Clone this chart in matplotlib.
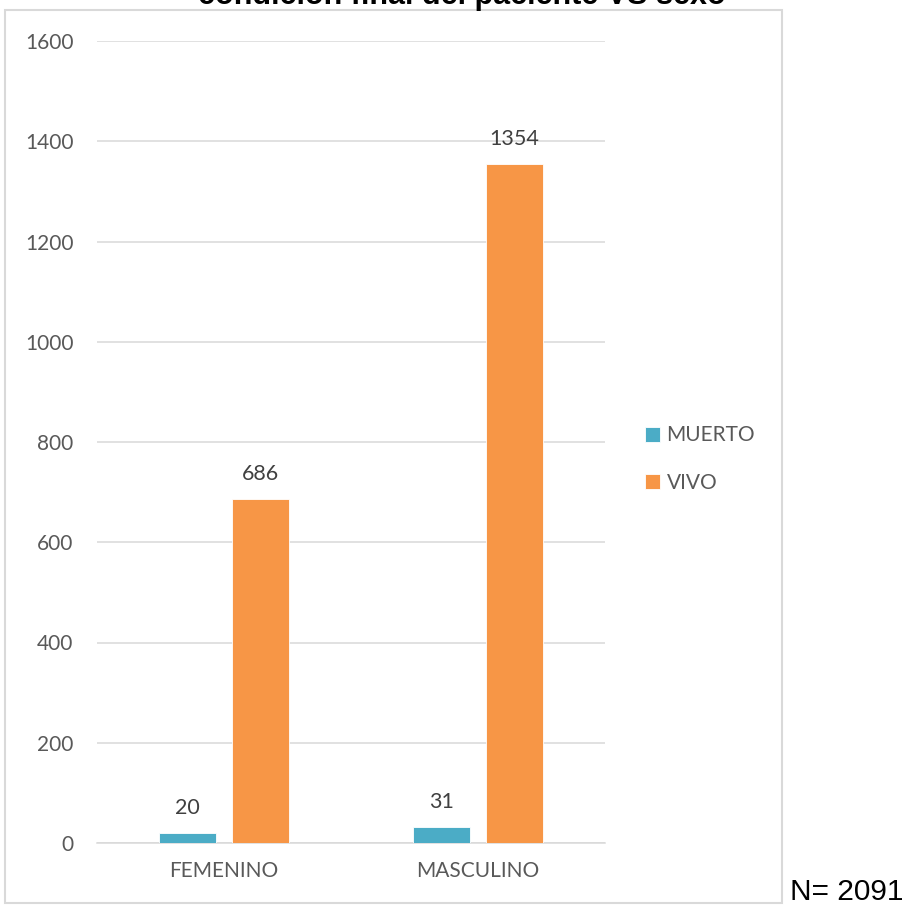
import matplotlib
matplotlib.use("Agg")
import matplotlib.pyplot as plt
from matplotlib.patches import Rectangle
import numpy as np

categories = ["FEMENINO", "MASCULINO"]
series_names = ["MUERTO", "VIVO"]
muerto = [20, 31]
vivo = [686, 1354]
series_colors = ["#4BACC6", "#F79646"]
y_ticks = [0, 200, 400, 600, 800, 1000, 1200, 1400, 1600]
title = "condición final del paciente VS sexo"
total_note = "N= 2091"

label_font = ["Lato", "DejaVu Sans"]
grey = "#595959"

fig = plt.figure(figsize=(9.09, 9.09), dpi=100)
ax = fig.add_axes([97 / 909, 66 / 909, 508 / 909, 802 / 909])

x = np.arange(len(categories))
width = 0.224
gap = 0.063
offsets = [-(width + gap) / 2, (width + gap) / 2]

for vals, off, col, name in zip([muerto, vivo], offsets, series_colors, series_names):
    bars = ax.bar(x + off, vals, width=width, color=col, label=name,
                  edgecolor="white", linewidth=0.6, zorder=3)
    for b, v in zip(bars, vals):
        ax.text(b.get_x() + b.get_width() / 2, v + 30, f"{v}",
                ha="center", va="bottom", fontsize=15.5, color="#404040",
                family=label_font, zorder=4)

ax.set_xlim(-0.5, len(categories) - 0.5)
ax.set_ylim(0, 1600)
ax.set_yticks(y_ticks)
ax.set_yticklabels([str(t) for t in y_ticks], fontsize=15, color=grey, family=label_font)
ax.set_xticks(x)
ax.set_xticklabels(categories, fontsize=15, color=grey, family=label_font)
ax.tick_params(axis="both", length=0)
ax.tick_params(axis="y", pad=17)
ax.tick_params(axis="x", pad=13)
ax.yaxis.grid(True, color="#D9D9D9", linewidth=1.1, zorder=0)
ax.set_axisbelow(True)
for s in ["top", "right", "left"]:
    ax.spines[s].set_visible(False)
ax.spines["bottom"].set_color("#D9D9D9")
ax.spines["bottom"].set_linewidth(1.1)

leg = fig.legend(loc="center left", bbox_to_anchor=(626 / 909, 1 - 459 / 909),
                 frameon=False, handlelength=0.75, handleheight=0.75,
                 handletextpad=0.3, labelspacing=1.3,
                 prop={"family": label_font, "size": 15})
for t in leg.get_texts():
    t.set_color(grey)

# outer chart frame
fig.add_artist(Rectangle((5 / 909, 1 - 903 / 909), 777 / 909, 893 / 909,
                         transform=fig.transFigure, fill=False,
                         edgecolor="#D9D9D9", linewidth=1.5))

fig.text(462 / 909, 1 - 4 / 909, title, ha="center", va="baseline",
         fontsize=22, fontweight="bold", family="Liberation Sans", color="black")
fig.text(790 / 909, 1 - 900 / 909, total_note, ha="left", va="baseline",
         fontsize=21.5, family="Liberation Sans", color="black")

fig.savefig("out.png", dpi=100)
